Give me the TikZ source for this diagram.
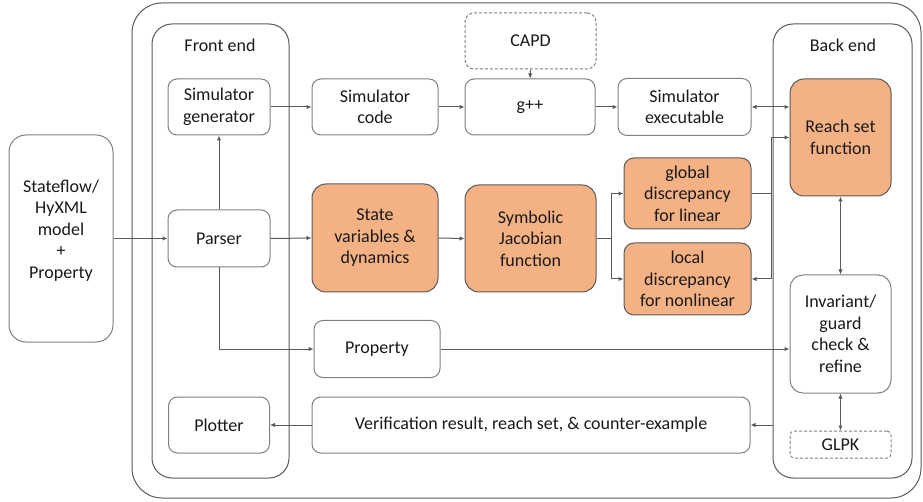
\documentclass[tikz,border=0pt]{standalone}
\usepackage{fontspec}
\setmainfont{Carlito}
\usetikzlibrary{arrows.meta}
\definecolor{linegray}{HTML}{595959}
\definecolor{boxgray}{HTML}{808080}
\definecolor{hotfill}{HTML}{F4B183}
\definecolor{txt}{HTML}{1A1A1A}
\tikzset{
  box/.style={draw=boxgray, fill=white, line width=1pt, rounded corners=9pt, align=center, inner sep=0pt, text=txt, font=\fontsize{18}{21.5}\selectfont},
  hot/.style={box, fill=hotfill, draw=linegray, rounded corners=14pt},
  dashbox/.style={box, dash pattern=on 3pt off 2pt},
  cont/.style={draw=linegray, line width=1pt, rounded corners=#1},
  flow/.style={draw=linegray, line width=1pt, -{Latex[length=5pt,width=4.5pt]}},
  both/.style={flow, {Latex[length=5pt,width=4.5pt]}-{Latex[length=5pt,width=4.5pt]}},
}
\begin{document}
\begin{tikzpicture}[x=1pt, y=-1pt]
  \useasboundingbox (0,0) rectangle (923,502);

  % containers
  \node[cont=30pt, minimum width=789, minimum height=495] (tool) at (526.5,250.5) {};
  \node[cont=20pt, minimum width=137, minimum height=454] (front) at (220.5,251) {};
  \node[cont=20pt, minimum width=139, minimum height=454] (back) at (842.5,251) {};
  \node[text=txt, font=\fontsize{18}{21.5}\selectfont] (frontlbl) at (220,45) {Front end};
  \node[text=txt, font=\fontsize{18}{21.5}\selectfont] (backlbl) at (843,45) {Back end};

  % input
  \node[box, rounded corners=17pt, minimum width=104, minimum height=207] (model) at (61,238.5) {Stateflow/\\HyXML\\model\\+\\Property\\[-3pt]\mbox{}};

  % front end
  \node[box, minimum width=102, minimum height=56] (simgen) at (219,107) {Simulator\\generator};
  \node[box, minimum width=102, minimum height=57] (parser) at (219,238.5) {Parser};
  \node[box, minimum width=101, minimum height=56] (plot) at (219,425) {Plotter};

  % middle
  \node[dashbox, minimum width=131, minimum height=56] (capd) at (530.5,41) {CAPD};
  \node[box, minimum width=126, minimum height=56] (simcode) at (375,107) {Simulator\\code};
  \node[box, minimum width=130, minimum height=56] (gpp) at (530,107) {g++};
  \node[box, minimum width=133, minimum height=57] (simexe) at (684.5,107) {Simulator\\executable};
  \node[hot, minimum width=126, minimum height=108] (state) at (375,238) {State\\variables \&\\dynamics};
  \node[hot, minimum width=131, minimum height=107] (jac) at (530.5,238.5) {Symbolic\\Jacobian\\function};
  \node[hot, rounded corners=10pt, minimum width=127, minimum height=71] (global) at (687.5,193.5) {global\\discrepancy\\for linear};
  \node[hot, rounded corners=10pt, minimum width=127, minimum height=72] (local) at (687.5,279) {local\\discrepancy\\for nonlinear};
  \node[box, minimum width=126, minimum height=57] (prop) at (377,349) {Property};
  \node[box, minimum width=438, minimum height=56] (verif) at (531,425) {Verification result, reach set, \& counter-example};

  % back end
  \node[hot, minimum width=101, minimum height=117] (reach) at (840.5,137.5) {Reach set\\function};
  \node[box, rounded corners=13pt, minimum width=101, minimum height=118] (inv) at (840.5,334) {Invariant/\\guard\\check \&\\refine};
  \node[dashbox, rounded corners=4pt, minimum width=101, minimum height=27] (glpk) at (840.5,444.5) {GLPK};

  % connectors
  \coordinate (fork) at (611,238.5);
  \coordinate (join) at (771,137.5);
  \draw[flow] (model.east) -- (parser.west);
  \draw[flow] (parser.north) -- (simgen.south);
  \draw[flow] (parser.east) -- (state.west);
  \draw[flow] (parser.south) |- (prop.west);
  \draw[flow] (simgen.east) -- (simcode.west);
  \draw[flow] (simcode.east) -- (gpp.west);
  \draw[flow] (capd.south) -- (gpp.north);
  \draw[flow] (gpp.east) -- (simexe.west);
  \draw[both] (simexe.east) -- (simexe.east -| reach.west);
  \draw[flow] (state.east) -- (jac.west);
  \draw[flow] (jac.east) -- (fork) |- (global.west);
  \draw[flow] (fork) |- (local.west);
  \draw[linegray, line width=1pt] (global.east) -- (global.east -| join);
  \draw[both] (reach.west |- join) -- (join) |- (local.east);
  \draw[both] (reach.south) -- (inv.north);
  \draw[flow] (prop.east) -- (prop.east -| inv.west);
  \draw[both] (inv.south) -- (glpk.north);
  \draw[flow] (back.west |- verif) -- (verif.east);
  \draw[flow] (verif.west) -- (plot.east);
\end{tikzpicture}
\end{document}
